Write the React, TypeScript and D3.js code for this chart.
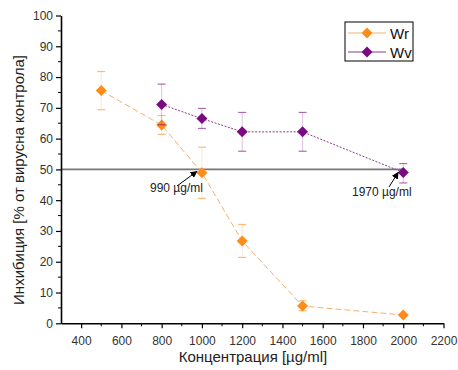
import React, { useRef, useEffect } from 'react';
import * as d3 from 'd3';

const concWr = [500, 800, 1000, 1200, 1500, 2000];
const valWr = [75.6, 64.4, 48.9, 26.7, 5.6, 2.7];
const errLoWr = [69.4, 61.4, 40.6, 21.4, 4.1, 2.7];
const errHiWr = [81.8, 67.5, 57.2, 32.1, 7.3, 2.7];

const concWv = [800, 1000, 1200, 1500, 2000];
const valWv = [71.1, 66.5, 62.2, 62.2, 49.0];
const errLoWv = [64.5, 63.3, 55.9, 55.9, 45.6];
const errHiWv = [77.7, 69.8, 68.5, 68.5, 51.9];

const xTicks = [400, 600, 800, 1000, 1200, 1400, 1600, 1800, 2000, 2200];
const yTicks = [0, 10, 20, 30, 40, 50, 60, 70, 80, 90, 100];

export default function App() {
  const svgRef = useRef<SVGSVGElement>(null);

  useEffect(() => {
    const w = 458;
    const h = 370;
    const svg = d3.select(svgRef.current);
    svg.selectAll('*').remove();
    svg.attr('width', w).attr('height', h).style('display', 'block').style('background', 'white');

    const x = d3.scaleLinear().domain([300, 2200]).range([61, 443.5]);
    const y = d3.scaleLinear().domain([0, 100]).range([323.3, 15.5]);
    const font = 'Liberation Sans, Arial, sans-serif';

    // reference line at 50%
    svg.append('line')
      .attr('x1', x(300)).attr('x2', x(2000))
      .attr('y1', y(50)).attr('y2', y(50))
      .attr('stroke', '#777').attr('stroke-width', 1.8);

    // axes
    const xAxis = svg.append('g').attr('transform', `translate(0,${y(0)})`);
    xAxis.call(d3.axisBottom(x).tickValues(xTicks).tickSize(5).tickSizeOuter(0).tickFormat(d3.format('d')));
    xAxis.append('g').selectAll('line')
      .data(d3.range(500, 2200, 200))
      .join('line')
      .attr('x1', d => x(d)).attr('x2', d => x(d))
      .attr('y1', 0).attr('y2', 3).attr('stroke', '#000');

    const yAxis = svg.append('g').attr('transform', `translate(${x(300)},0)`);
    yAxis.call(d3.axisLeft(y).tickValues(yTicks).tickSize(5).tickSizeOuter(0));
    yAxis.append('g').selectAll('line')
      .data(d3.range(5, 100, 10))
      .join('line')
      .attr('y1', d => y(d)).attr('y2', d => y(d))
      .attr('x1', 0).attr('x2', -3).attr('stroke', '#000');

    [xAxis, yAxis].forEach(g => {
      g.select('.domain').attr('stroke', '#000').attr('stroke-width', 1.6);
      g.selectAll('.tick line').attr('stroke', '#000').attr('stroke-width', 1.2);
      g.selectAll('.tick text').attr('font-family', font).attr('font-size', 12).attr('fill', '#333');
    });
    xAxis.selectAll('.tick text').attr('dy', '1.15em');

    // axis titles
    svg.append('text')
      .attr('x', 253).attr('y', 362)
      .attr('text-anchor', 'middle')
      .attr('font-family', font).attr('font-size', 15).attr('fill', '#222')
      .text('Концентрация [µg/ml]');
    svg.append('text')
      .attr('transform', `translate(24,180) rotate(-90)`)
      .attr('text-anchor', 'middle')
      .attr('font-family', font).attr('font-size', 15).attr('fill', '#222')
      .text('Инхибиция [% от вирусна контрола]');

    const series = [
      { c: concWr, v: valWr, lo: errLoWr, hi: errHiWr, line: '#f2b36a', mark: '#ff8c1a', dash: '6,3' },
      { c: concWv, v: valWv, lo: errLoWv, hi: errHiWv, line: '#8a3a8a', mark: '#7a0a80', dash: '2,1.5' },
    ];

    const diamond = 'M0,-5.5L5.5,0L0,5.5L-5.5,0Z';

    series.forEach(s => {
      const pts = s.c.map((c, i) => ({ c, v: s.v[i], lo: s.lo[i], hi: s.hi[i] }));
      const g = svg.append('g');
      // error bars
      g.selectAll('.err')
        .data(pts)
        .join('line')
        .attr('x1', d => x(d.c)).attr('x2', d => x(d.c))
        .attr('y1', d => y(d.lo)).attr('y2', d => y(d.hi))
        .attr('stroke', s.line).attr('stroke-opacity', 0.3).attr('stroke-width', 1);
      g.selectAll('.capHi')
        .data(pts)
        .join('line')
        .attr('x1', d => x(d.c) - 4).attr('x2', d => x(d.c) + 4)
        .attr('y1', d => y(d.hi)).attr('y2', d => y(d.hi))
        .attr('stroke', s.mark).attr('stroke-opacity', 0.6).attr('stroke-width', 1.2);
      g.selectAll('.capLo')
        .data(pts)
        .join('line')
        .attr('x1', d => x(d.c) - 4).attr('x2', d => x(d.c) + 4)
        .attr('y1', d => y(d.lo)).attr('y2', d => y(d.lo))
        .attr('stroke', s.mark).attr('stroke-opacity', 0.6).attr('stroke-width', 1.2);
      // connecting line
      g.append('path')
        .datum(pts)
        .attr('d', d3.line<any>().x(d => x(d.c)).y(d => y(d.v)))
        .attr('fill', 'none').attr('stroke', s.line).attr('stroke-width', 1)
        .attr('stroke-dasharray', s.dash);
      g.selectAll('.pt')
        .data(pts)
        .join('path')
        .attr('transform', d => `translate(${x(d.c)},${y(d.v)})`)
        .attr('d', diamond)
        .attr('fill', s.mark);
    });

    // annotations
    const defs = svg.append('defs');
    defs.append('marker')
      .attr('id', 'arr').attr('viewBox', '0 0 10 10').attr('refX', 9).attr('refY', 5)
      .attr('markerWidth', 7).attr('markerHeight', 7).attr('orient', 'auto')
      .append('path').attr('d', 'M0,0 L10,5 L0,10 z').attr('fill', '#000');

    svg.append('line')
      .attr('x1', 177).attr('y1', 186).attr('x2', x(990) - 3).attr('y2', y(50) + 2)
      .attr('stroke', '#000').attr('stroke-width', 1).attr('marker-end', 'url(#arr)');
    svg.append('text')
      .attr('x', 150).attr('y', 192)
      .attr('font-family', font).attr('font-size', 12).attr('fill', '#222')
      .text('990 µg/ml');

    svg.append('line')
      .attr('x1', 389).attr('y1', 187).attr('x2', x(1970) + 1).attr('y2', y(50) + 3)
      .attr('stroke', '#000').attr('stroke-width', 1).attr('marker-end', 'url(#arr)');
    svg.append('text')
      .attr('x', 352).attr('y', 196)
      .attr('font-family', font).attr('font-size', 12).attr('fill', '#222')
      .text('1970 µg/ml');

    // legend
    const lg = svg.append('g').attr('transform', 'translate(345,22)');
    lg.append('rect').attr('width', 68).attr('height', 39)
      .attr('fill', 'white').attr('stroke', '#000').attr('stroke-width', 1);
    [{ name: 'Wr', s: series[0] }, { name: 'Wv', s: series[1] }].forEach((e, i) => {
      const yy = 11 + i * 19;
      lg.append('line').attr('x1', 3).attr('x2', 41).attr('y1', yy).attr('y2', yy)
        .attr('stroke', e.s.line).attr('stroke-width', 1.2);
      lg.append('path').attr('transform', `translate(22,${yy})`).attr('d', diamond).attr('fill', e.s.mark);
      lg.append('text').attr('x', 45).attr('y', yy + 5.5)
        .attr('font-family', font).attr('font-size', 15).attr('fill', '#111')
        .text(e.name);
    });
  }, []);

  return <svg ref={svgRef} style={{ position: 'absolute', left: 0, top: 0 }}></svg>;
}
